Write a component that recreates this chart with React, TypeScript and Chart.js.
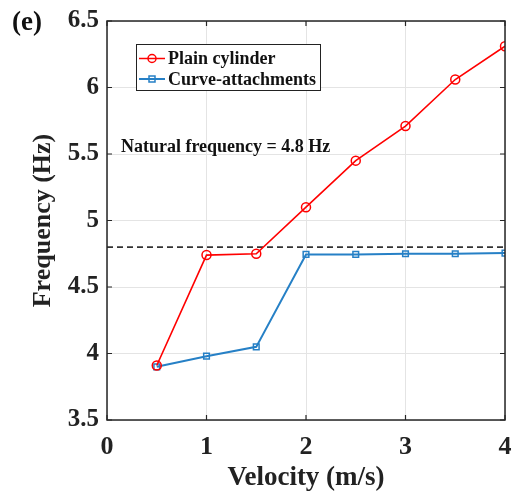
import React, { useEffect, useRef } from "react";
import { Chart, registerables } from "chart.js";

Chart.register(...registerables);

const velocity = [0.5, 1, 1.5, 2, 2.5, 3, 3.5, 4];
const plainCylinder = [3.91, 4.74, 4.75, 5.1, 5.45, 5.71, 6.06, 6.31];
const curveAttachments = [3.9, 3.98, 4.05, 4.745, 4.745, 4.75, 4.75, 4.755];
const naturalFreq = 4.8;
const naturalX = [0, 4];
const seriesNames = ["Plain cylinder", "Curve-attachments"];
const annotationText = "Natural frequency = 4.8 Hz";
const panelLabel = "(e)";

const SERIF = '"Liberation Serif", "Times New Roman", serif';
const RED = "#ff0000";
const BLUE = "#2680c6";

const decorPlugin = {
  id: "decor",
  afterDatasetsDraw(chart: any) {
    const { ctx, chartArea, scales } = chart;
    const { left, right, top, bottom } = chartArea;
    ctx.save();
    // border
    ctx.strokeStyle = "#262626";
    ctx.lineWidth = 1.5;
    ctx.strokeRect(left, top, right - left, bottom - top);
    // inward ticks
    ctx.lineWidth = 1.2;
    const tl = 5;
    scales.x.ticks.forEach((t: any) => {
      const px = scales.x.getPixelForValue(t.value);
      ctx.beginPath();
      ctx.moveTo(px, bottom);
      ctx.lineTo(px, bottom - tl);
      ctx.moveTo(px, top);
      ctx.lineTo(px, top + tl);
      ctx.stroke();
    });
    scales.y.ticks.forEach((t: any) => {
      const py = scales.y.getPixelForValue(t.value);
      ctx.beginPath();
      ctx.moveTo(left, py);
      ctx.lineTo(left + tl, py);
      ctx.moveTo(right, py);
      ctx.lineTo(right - tl, py);
      ctx.stroke();
    });
    // annotation
    ctx.fillStyle = "#111";
    ctx.font = `bold 18px ${SERIF}`;
    ctx.textAlign = "left";
    ctx.textBaseline = "middle";
    ctx.fillText(annotationText, scales.x.getPixelForValue(0.14), scales.y.getPixelForValue(5.55));
    // legend box
    const lx = 136, ly = 44, lw = 184, lh = 46;
    ctx.fillStyle = "#ffffff";
    ctx.fillRect(lx, ly, lw, lh);
    ctx.strokeStyle = "#222";
    ctx.lineWidth = 1;
    ctx.strokeRect(lx + 0.5, ly + 0.5, lw, lh);
    const rows = [
      { y: 58.5, color: RED, style: "circle", w: 1.5 },
      { y: 79, color: BLUE, style: "rect", w: 2 },
    ];
    rows.forEach((r, i) => {
      ctx.strokeStyle = r.color;
      ctx.lineWidth = r.w;
      ctx.beginPath();
      ctx.moveTo(139, r.y);
      ctx.lineTo(165, r.y);
      ctx.stroke();
      ctx.lineWidth = 1.5;
      ctx.beginPath();
      if (r.style === "circle") {
        ctx.arc(152, r.y, 4, 0, Math.PI * 2);
      } else {
        ctx.rect(149, r.y - 3, 6, 6);
      }
      ctx.stroke();
      ctx.fillStyle = "#111";
      ctx.font = `bold 18px ${SERIF}`;
      ctx.textAlign = "left";
      ctx.textBaseline = "middle";
      ctx.fillText(seriesNames[i], 168, r.y + 1);
    });
    // panel label
    ctx.font = `bold 27px ${SERIF}`;
    ctx.fillStyle = "#111";
    ctx.textBaseline = "middle";
    ctx.fillText(panelLabel, 12, 23);
    ctx.restore();
  },
};

export default function App() {
  const ref = useRef<HTMLCanvasElement | null>(null);
  useEffect(() => {
    if (!ref.current) return;
    const chart = new Chart(ref.current, {
      type: "line",
      data: {
        datasets: [
          {
            label: "natural",
            data: naturalX.map((x) => ({ x, y: naturalFreq })),
            borderColor: "#333333",
            borderWidth: 1.6,
            borderDash: [6, 4],
            pointRadius: 0,
            order: 3,
          },
          {
            label: seriesNames[1],
            data: velocity.map((x, i) => ({ x, y: curveAttachments[i] })),
            borderColor: BLUE,
            borderWidth: 2,
            pointStyle: "rect",
            pointRadius: 4,
            pointBorderWidth: 1.5,
            pointBorderColor: BLUE,
            pointBackgroundColor: "rgba(0,0,0,0)",
            order: 2,
          },
          {
            label: seriesNames[0],
            data: velocity.map((x, i) => ({ x, y: plainCylinder[i] })),
            borderColor: RED,
            borderWidth: 1.6,
            pointStyle: "circle",
            pointRadius: 4.5,
            pointBorderWidth: 1.5,
            pointBorderColor: RED,
            pointBackgroundColor: "rgba(0,0,0,0)",
            order: 1,
          },
        ],
      },
      options: {
        animation: false,
        responsive: false,
        maintainAspectRatio: false,
        layout: { padding: { top: 21, right: 8, left: 0, bottom: 0 } },
        plugins: { legend: { display: false }, tooltip: { enabled: false } },
        scales: {
          x: {
            type: "linear",
            min: 0,
            max: 4,
            ticks: {
              stepSize: 1,
              color: "#222",
              padding: 12,
              font: { family: SERIF, size: 26, weight: "bold" },
              callback: (v: any) => String(v),
            },
            grid: { color: "#e4e4e4", lineWidth: 1, drawTicks: false },
            border: { display: false },
            title: {
              display: true,
              text: "Velocity (m/s)",
              color: "#222",
              padding: { top: 0, bottom: -2 },
              font: { family: SERIF, size: 27, weight: "bold" },
            },
            afterFit: (s: any) => {
              s.height = 72;
              s.paddingLeft = 0;
              s.paddingRight = 0;
            },
          },
          y: {
            type: "linear",
            min: 3.5,
            max: 6.5,
            ticks: {
              stepSize: 0.5,
              color: "#222",
              padding: 8,
              font: { family: SERIF, size: 25, weight: "bold" },
              callback: (v: any) => String(Math.round(v * 10) / 10),
            },
            grid: { color: "#e4e4e4", lineWidth: 1, drawTicks: false },
            border: { display: false },
            title: {
              display: true,
              text: "Frequency (Hz)",
              color: "#222",
              padding: { top: 28, bottom: 0 },
              font: { family: SERIF, size: 26, weight: "bold" },
            },
            afterFit: (s: any) => {
              s.width = 107;
              s.paddingTop = 0;
              s.paddingBottom = 0;
            },
          },
        },
      },
      plugins: [decorPlugin],
    } as any);
    return () => chart.destroy();
  }, []);
  return (
    <div style={{ position: "absolute", left: 0, top: 0, width: 513, height: 492, background: "#fff" }}>
      <canvas ref={ref} width={513} height={492} style={{ width: 513, height: 492 }} />
    </div>
  );
}
